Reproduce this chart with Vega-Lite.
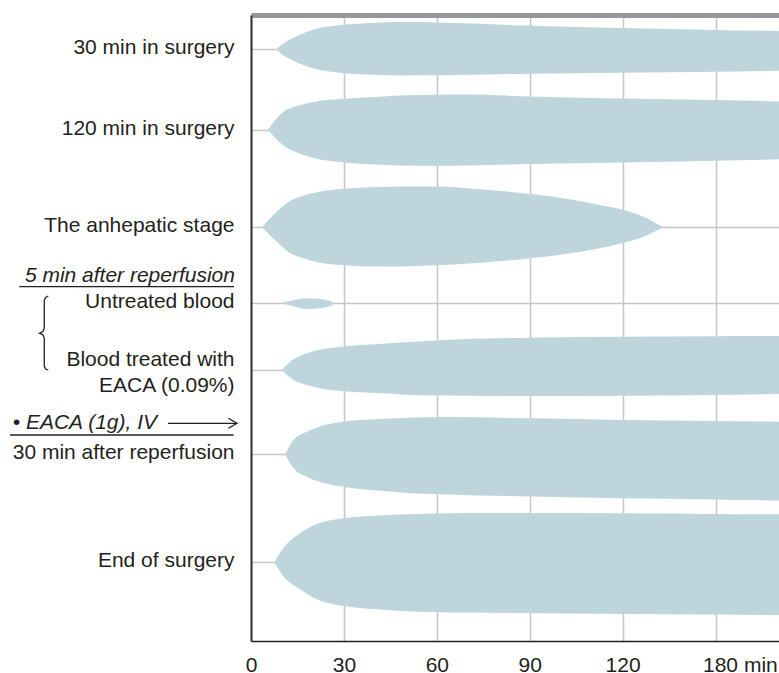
{
  "$schema": "https://vega.github.io/schema/vega-lite/v6.json",
  "width": 528,
  "height": 626,
  "autosize": {"type": "none"},
  "padding": {"left": 251, "top": 15, "right": 0, "bottom": 32},
  "background": "#ffffff",
  "config": {
    "view": {"stroke": null},
    "font": "Liberation Sans",
    "axis": {"labelFont": "Liberation Sans", "labelFontSize": 21, "labelColor": "#231f20", "title": null, "labelLimit": 400}
  },
  "datasets": {
    "traces": [
      {"sample": "30 min in surgery", "t": 8.1, "upper": 591.7, "lower": 591.7},
      {"sample": "30 min in surgery", "t": 10.4, "upper": 597.3, "lower": 585.7},
      {"sample": "30 min in surgery", "t": 15.8, "upper": 606.3, "lower": 577.3},
      {"sample": "30 min in surgery", "t": 21.2, "upper": 612.3, "lower": 571.7},
      {"sample": "30 min in surgery", "t": 26.5, "upper": 615, "lower": 569},
      {"sample": "30 min in surgery", "t": 32.0, "upper": 616.7, "lower": 567.3},
      {"sample": "30 min in surgery", "t": 41.7, "upper": 618.4, "lower": 566},
      {"sample": "30 min in surgery", "t": 48.2, "upper": 618.9, "lower": 565.6},
      {"sample": "30 min in surgery", "t": 59.7, "upper": 618.6, "lower": 565.7},
      {"sample": "30 min in surgery", "t": 90.2, "upper": 615.3, "lower": 567.3},
      {"sample": "30 min in surgery", "t": 119.8, "upper": 613, "lower": 568.3},
      {"sample": "30 min in surgery", "t": 150, "upper": 611, "lower": 569.3},
      {"sample": "30 min in surgery", "t": 170.7, "upper": 610, "lower": 570.3},

      {"sample": "120 min in surgery", "t": 5.4, "upper": 511.3, "lower": 511.3},
      {"sample": "120 min in surgery", "t": 10.4, "upper": 529, "lower": 495.7},
      {"sample": "120 min in surgery", "t": 15.8, "upper": 535.7, "lower": 487.3},
      {"sample": "120 min in surgery", "t": 21.2, "upper": 539.7, "lower": 482.3},
      {"sample": "120 min in surgery", "t": 28.8, "upper": 542, "lower": 479},
      {"sample": "120 min in surgery", "t": 41.7, "upper": 544.3, "lower": 476.2},
      {"sample": "120 min in surgery", "t": 48.2, "upper": 545.4, "lower": 475.5},
      {"sample": "120 min in surgery", "t": 59.7, "upper": 546.3, "lower": 475.3},
      {"sample": "120 min in surgery", "t": 69.7, "upper": 546.4, "lower": 475.6},
      {"sample": "120 min in surgery", "t": 90.2, "upper": 544.6, "lower": 477},
      {"sample": "120 min in surgery", "t": 119.8, "upper": 542.5, "lower": 478.4},
      {"sample": "120 min in surgery", "t": 150, "upper": 541, "lower": 480.3},
      {"sample": "120 min in surgery", "t": 170.7, "upper": 539.5, "lower": 481.7},

      {"sample": "The anhepatic stage", "t": 3.5, "upper": 413.7, "lower": 413.7},
      {"sample": "The anhepatic stage", "t": 8.3, "upper": 429.3, "lower": 399.3},
      {"sample": "The anhepatic stage", "t": 12.6, "upper": 440, "lower": 388},
      {"sample": "The anhepatic stage", "t": 16.9, "upper": 445.3, "lower": 382.7},
      {"sample": "The anhepatic stage", "t": 21.2, "upper": 448.7, "lower": 379},
      {"sample": "The anhepatic stage", "t": 28.8, "upper": 452, "lower": 376},
      {"sample": "The anhepatic stage", "t": 41.7, "upper": 454, "lower": 374.5},
      {"sample": "The anhepatic stage", "t": 48.2, "upper": 454.5, "lower": 374.6},
      {"sample": "The anhepatic stage", "t": 59.7, "upper": 454.5, "lower": 375.8},
      {"sample": "The anhepatic stage", "t": 74.0, "upper": 451.7, "lower": 378.3},
      {"sample": "The anhepatic stage", "t": 90.2, "upper": 447, "lower": 382.7},
      {"sample": "The anhepatic stage", "t": 101.0, "upper": 442.7, "lower": 386.7},
      {"sample": "The anhepatic stage", "t": 111.8, "upper": 436.5, "lower": 392.2},
      {"sample": "The anhepatic stage", "t": 119.8, "upper": 431.5, "lower": 397.8},
      {"sample": "The anhepatic stage", "t": 126.8, "upper": 424.3, "lower": 404.3},
      {"sample": "The anhepatic stage", "t": 133.1, "upper": 413.7, "lower": 413.7},

      {"sample": "Untreated blood", "t": 9.6, "upper": 337.7, "lower": 337.7},
      {"sample": "Untreated blood", "t": 12.6, "upper": 340, "lower": 335.5},
      {"sample": "Untreated blood", "t": 18.0, "upper": 342.7, "lower": 331.9},
      {"sample": "Untreated blood", "t": 22.3, "upper": 341.9, "lower": 332.7},
      {"sample": "Untreated blood", "t": 25.5, "upper": 340, "lower": 334.9},
      {"sample": "Untreated blood", "t": 27.2, "upper": 337.7, "lower": 337.7},

      {"sample": "Blood treated with EACA (0.09%)", "t": 9.9, "upper": 271, "lower": 271},
      {"sample": "Blood treated with EACA (0.09%)", "t": 13.7, "upper": 281.7, "lower": 261},
      {"sample": "Blood treated with EACA (0.09%)", "t": 18.0, "upper": 287.7, "lower": 256},
      {"sample": "Blood treated with EACA (0.09%)", "t": 23.4, "upper": 292, "lower": 252},
      {"sample": "Blood treated with EACA (0.09%)", "t": 29.1, "upper": 294.3, "lower": 250},
      {"sample": "Blood treated with EACA (0.09%)", "t": 41.7, "upper": 296.9, "lower": 247.7},
      {"sample": "Blood treated with EACA (0.09%)", "t": 48.2, "upper": 298.4, "lower": 246.6},
      {"sample": "Blood treated with EACA (0.09%)", "t": 59.7, "upper": 300.6, "lower": 245.5},
      {"sample": "Blood treated with EACA (0.09%)", "t": 90.2, "upper": 303.3, "lower": 245},
      {"sample": "Blood treated with EACA (0.09%)", "t": 119.8, "upper": 304.3, "lower": 245.3},
      {"sample": "Blood treated with EACA (0.09%)", "t": 150, "upper": 304.7, "lower": 246},
      {"sample": "Blood treated with EACA (0.09%)", "t": 170.7, "upper": 305, "lower": 247},

      {"sample": "30 min after reperfusion", "t": 11.0, "upper": 186.7, "lower": 186.7},
      {"sample": "30 min after reperfusion", "t": 13.7, "upper": 201, "lower": 172.7},
      {"sample": "30 min after reperfusion", "t": 18.0, "upper": 209.3, "lower": 164.3},
      {"sample": "30 min after reperfusion", "t": 23.4, "upper": 215.6, "lower": 157.9},
      {"sample": "30 min after reperfusion", "t": 29.1, "upper": 219.1, "lower": 154.5},
      {"sample": "30 min after reperfusion", "t": 41.7, "upper": 221.9, "lower": 150.2},
      {"sample": "30 min after reperfusion", "t": 48.2, "upper": 222.9, "lower": 148.6},
      {"sample": "30 min after reperfusion", "t": 63.3, "upper": 223.9, "lower": 146.6},
      {"sample": "30 min after reperfusion", "t": 90.2, "upper": 222.7, "lower": 144.5},
      {"sample": "30 min after reperfusion", "t": 119.8, "upper": 221, "lower": 142.8},
      {"sample": "30 min after reperfusion", "t": 150, "upper": 220, "lower": 141.6},
      {"sample": "30 min after reperfusion", "t": 170.7, "upper": 219.3, "lower": 140.5},

      {"sample": "End of surgery", "t": 7.5, "upper": 78.7, "lower": 78.7},
      {"sample": "End of surgery", "t": 10.4, "upper": 92.7, "lower": 65},
      {"sample": "End of surgery", "t": 15.8, "upper": 107.7, "lower": 51.7},
      {"sample": "End of surgery", "t": 21.2, "upper": 117, "lower": 41.7},
      {"sample": "End of surgery", "t": 26.6, "upper": 121.2, "lower": 36.7},
      {"sample": "End of surgery", "t": 32.0, "upper": 123.6, "lower": 34},
      {"sample": "End of surgery", "t": 41.7, "upper": 125.6, "lower": 31.4},
      {"sample": "End of surgery", "t": 48.2, "upper": 126.6, "lower": 30.1},
      {"sample": "End of surgery", "t": 69.7, "upper": 128.1, "lower": 28.4},
      {"sample": "End of surgery", "t": 90.2, "upper": 128, "lower": 27.7},
      {"sample": "End of surgery", "t": 119.8, "upper": 127.7, "lower": 27.1},
      {"sample": "End of surgery", "t": 150, "upper": 127.1, "lower": 26.6},
      {"sample": "End of surgery", "t": 170.7, "upper": 126.7, "lower": 25.9}
    ],
    "strokes": [
      {"part": "underline1", "i": 0, "x": -74.82, "y": 354.3},
      {"part": "underline1", "i": 1, "x": -5.49, "y": 354.3},
      {"part": "underline2", "i": 0, "x": -77.82, "y": 206},
      {"part": "underline2", "i": 1, "x": -5.65, "y": 206},
      {"part": "shaft", "i": 0, "x": -26.8, "y": 217.7},
      {"part": "shaft", "i": 1, "x": -4.84, "y": 217.7},
      {"part": "head", "i": 0, "x": -7.33, "y": 222.7},
      {"part": "head", "i": 1, "x": -4.52, "y": 217.7},
      {"part": "head", "i": 2, "x": -7.33, "y": 212.7},
      {"part": "brace", "i": 0, "x": -65.46, "y": 345},
      {"part": "brace", "i": 1, "x": -66.36, "y": 343.5},
      {"part": "brace", "i": 2, "x": -66.75, "y": 340.5},
      {"part": "brace", "i": 3, "x": -66.75, "y": 313},
      {"part": "brace", "i": 4, "x": -67.17, "y": 309.5},
      {"part": "brace", "i": 5, "x": -68.3, "y": 307.7},
      {"part": "brace", "i": 6, "x": -67.17, "y": 306},
      {"part": "brace", "i": 7, "x": -66.75, "y": 302.5},
      {"part": "brace", "i": 8, "x": -66.75, "y": 275},
      {"part": "brace", "i": 9, "x": -66.36, "y": 272},
      {"part": "brace", "i": 10, "x": -65.46, "y": 271}
    ],
    "notes": [
      {"text": "5 min after reperfusion", "x": -5.17, "y": 359.3},
      {"text": "• EACA (1g), IV", "x": -30.35, "y": 211.7}
    ]
  },
  "resolve": {"axis": {"x": "independent", "y": "independent"}},
  "layer": [
    {
      "data": {"name": "traces"},
      "mark": {"type": "area", "interpolate": "monotone", "color": "#bed6db", "opacity": 1, "clip": true},
      "encoding": {
        "x": {
          "field": "t", "type": "quantitative",
          "scale": {"domain": [0, 170.5], "nice": false, "zero": false},
          "axis": {
            "orient": "bottom",
            "values": [0, 30, 60, 90, 120, 150],
            "labelExpr": "datum.value == 150 ? '180 min' : datum.label",
            "labelAlign": {"condition": {"test": "datum.value == 150", "value": "left"}, "value": "center"},
            "labelOffset": {"condition": {"test": "datum.value == 150", "value": -13}, "value": 0},
            "labelFlush": false,
            "labelOverlap": false,
            "ticks": false,
            "tickSize": 0,
            "labelPadding": 13,
            "domainColor": "#231f20",
            "domainWidth": 1.5,
            "grid": true,
            "gridColor": "#c6c6c6",
            "gridWidth": 1.5,
            "title": null
          }
        },
        "y": {
          "field": "upper", "type": "quantitative",
          "scale": {"domain": [0, 626], "nice": false, "zero": false},
          "axis": {
            "orient": "left",
            "values": [591.7, 511.3, 413.7, 337.7, 271, 186.7, 78.7],
            "labelExpr": "datum.value > 550 ? '30 min in surgery' : datum.value > 450 ? '120 min in surgery' : datum.value > 380 ? 'The anhepatic stage' : datum.value > 300 ? 'Untreated blood' : datum.value > 230 ? ['Blood treated with', 'EACA (0.09%)'] : datum.value > 130 ? '30 min after reperfusion' : 'End of surgery'",
            "labelAlign": "right",
            "labelBaseline": "middle",
            "labelOffset": {"condition": {"test": "datum.value > 230 && datum.value < 300", "value": -11}, "value": -1.5},
            "labelLineHeight": 26.7,
            "labelPadding": 17,
            "labelOverlap": false,
            "labelBound": false,
            "labelFlush": false,
            "labelLimit": 400,
            "ticks": false,
            "tickSize": 0,
            "domainColor": "#333333",
            "domainWidth": 2,
            "grid": true,
            "gridColor": "#c6c6c6",
            "gridWidth": 1.5,
            "title": null
          }
        },
        "y2": {"field": "lower"},
        "detail": {"field": "sample"}
      }
    },
    {
      "data": {"name": "strokes"},
      "mark": {"type": "line", "color": "#231f20", "strokeWidth": 1.3, "clip": false},
      "encoding": {
        "x": {"field": "x", "type": "quantitative", "scale": {"domain": [0, 170.5], "nice": false, "zero": false}, "axis": null},
        "y": {"field": "y", "type": "quantitative", "scale": {"domain": [0, 626], "nice": false, "zero": false}, "axis": null},
        "detail": {"field": "part"},
        "order": {"field": "i"}
      }
    },
    {
      "data": {"name": "notes"},
      "mark": {"type": "text", "align": "right", "baseline": "alphabetic", "fontStyle": "italic", "fontSize": 21, "font": "Liberation Sans", "color": "#231f20", "clip": false},
      "encoding": {
        "x": {
          "field": "x", "type": "quantitative",
          "scale": {"domain": [0, 170.5], "nice": false, "zero": false},
          "axis": {"orient": "top", "labels": false, "ticks": false, "grid": false, "domainColor": "#98989c", "domainWidth": 5, "title": null}
        },
        "y": {"field": "y", "type": "quantitative", "scale": {"domain": [0, 626], "nice": false, "zero": false}, "axis": null},
        "text": {"field": "text"}
      }
    }
  ]
}
